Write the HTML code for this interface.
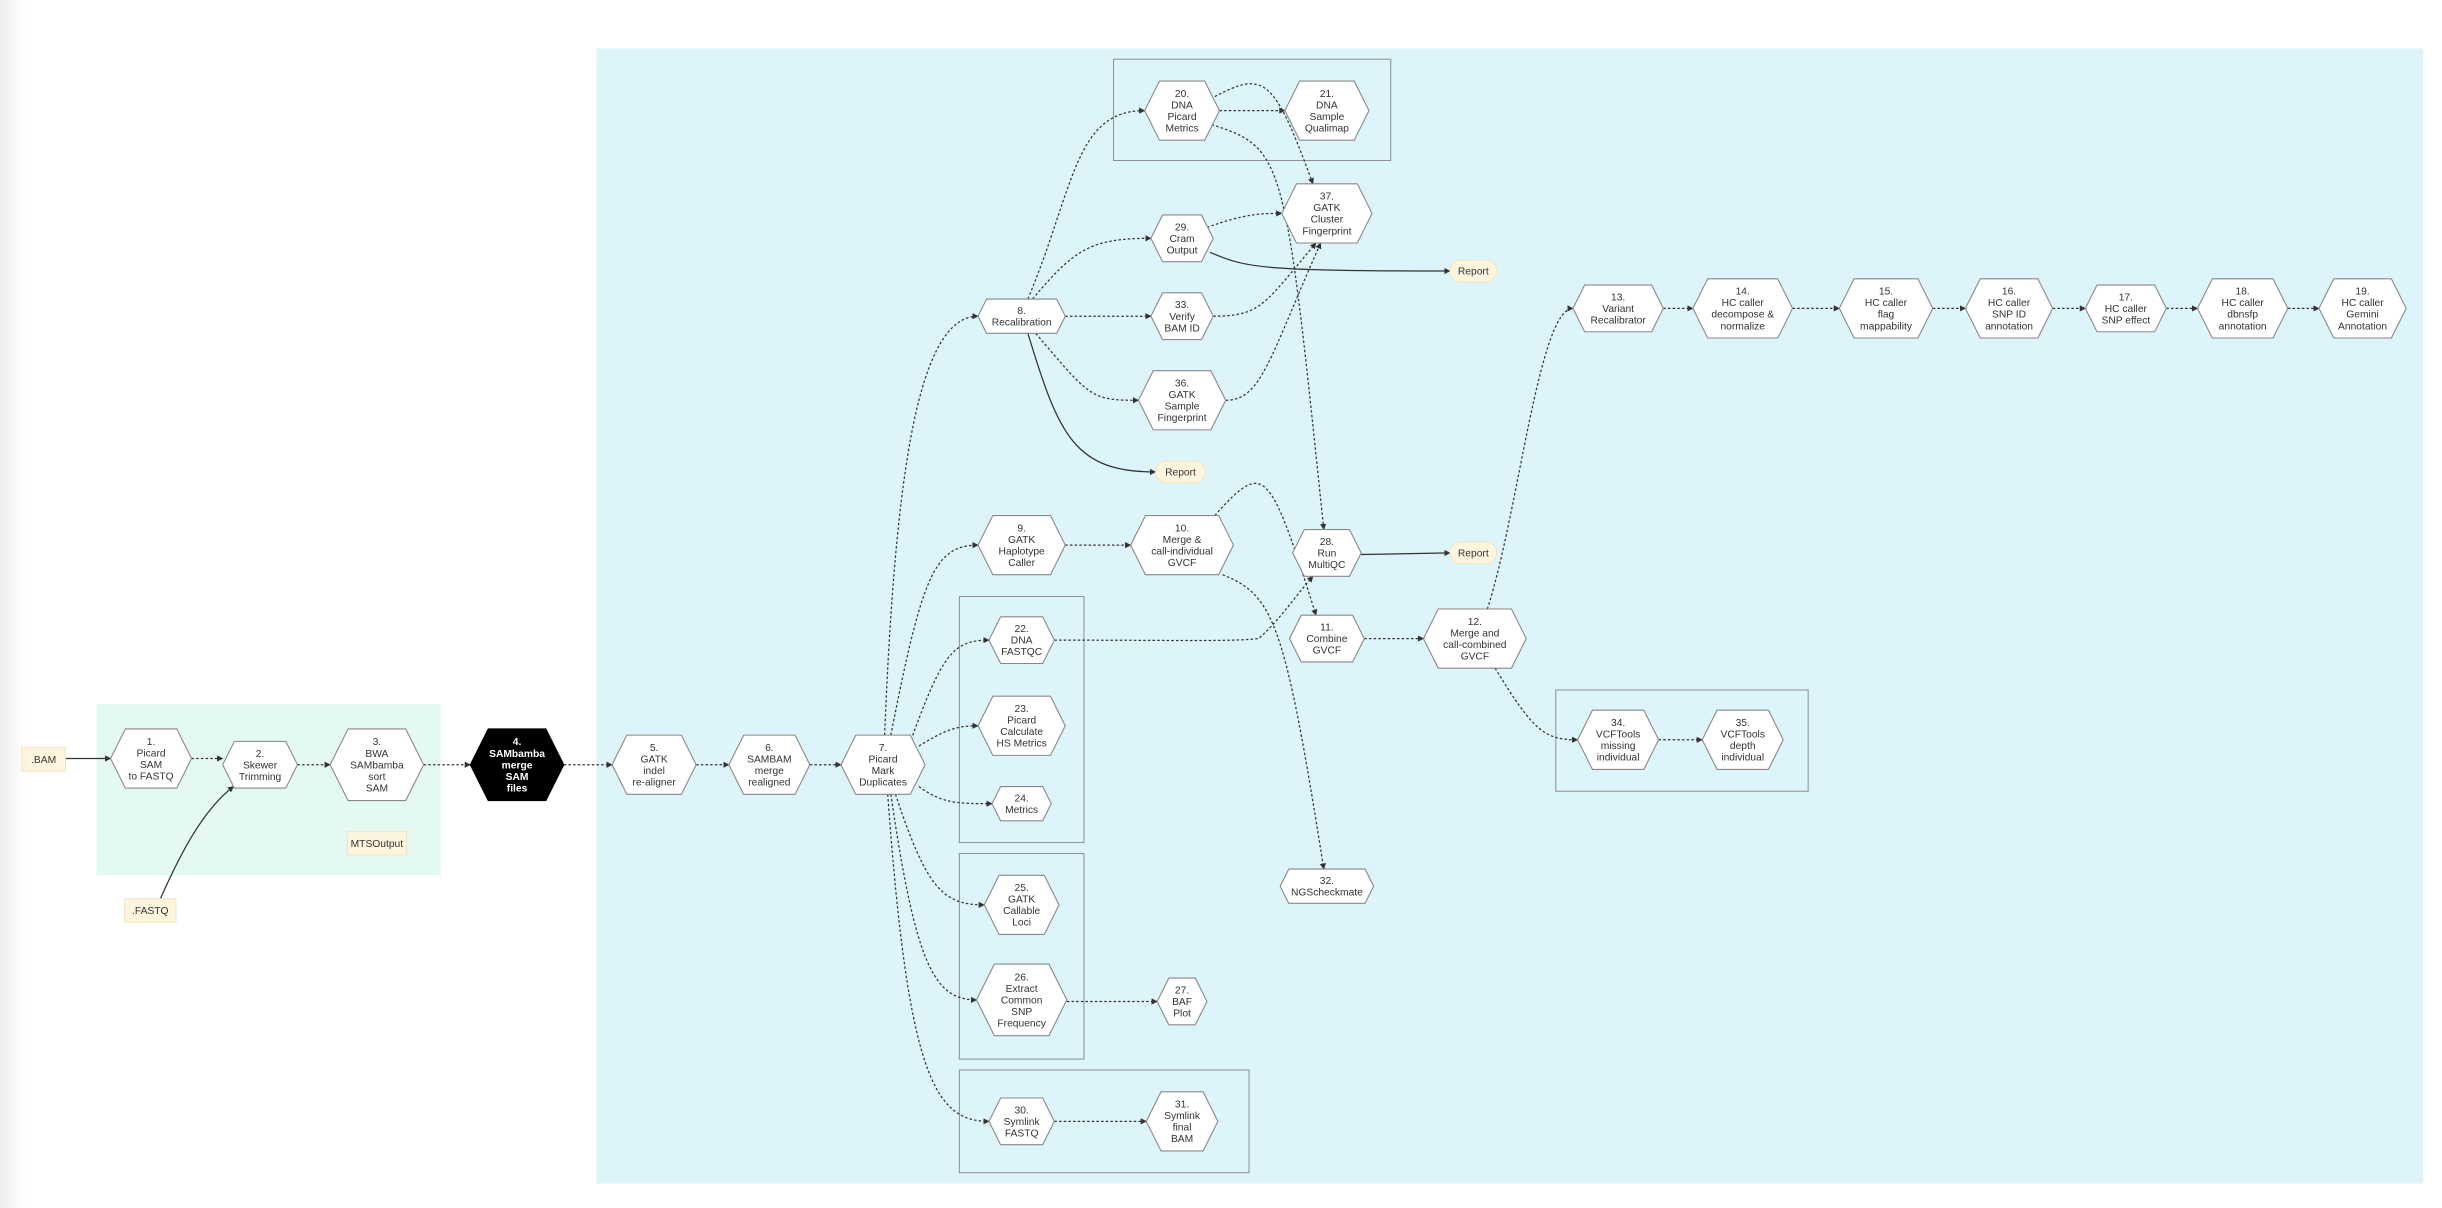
<!DOCTYPE html>
<html><head><meta charset="utf-8"><style>
html,body{margin:0;padding:0;background:#fff;width:2442px;height:1208px;overflow:hidden}
svg{display:block}
text{font-family:"Liberation Sans",sans-serif;font-size:6.6px;fill:#333;text-anchor:middle}
</style></head><body>
<svg id="s" width="2442" height="1208" viewBox="0 0 1568 775.6" xmlns="http://www.w3.org/2000/svg">
<defs>
<linearGradient id="g" x1="0" x2="1"><stop offset="0" stop-color="#ececec"/><stop offset="1" stop-color="#fff"/></linearGradient>
<marker id="a" viewBox="0 0 10 10" refX="9" refY="5" markerWidth="5" markerHeight="5" orient="auto"><path d="M0,0L10,5L0,10z" fill="#333"/></marker>
</defs>
<rect x="0" y="0" width="16" height="775.6" fill="url(#g)"/>
<rect x="62" y="452" width="221" height="110" fill="#e4f9f1"/>
<rect x="383" y="31" width="1173" height="729" fill="#ddf4fa"/>
<g fill="none" stroke="#888" stroke-width="0.6">
<rect x="715" y="38" width="178" height="65"/>
<rect x="616" y="383" width="80" height="158"/>
<rect x="616" y="548" width="80" height="132"/>
<rect x="616" y="687" width="186" height="66"/>
<rect x="999" y="443" width="162" height="65"/>
</g>
<g id="edges" fill="none" stroke="#333" stroke-width="0.8"></g>
<g id="nodes"></g>
</svg>
<script>
var NS="http://www.w3.org/2000/svg";
var E=document.getElementById("edges"),N=document.getElementById("nodes");
function el(t,a,p){var e=document.createElementNS(NS,t);for(var k in a)e.setAttribute(k,a[k]);p.appendChild(e);return e;}
var dotted=[
"M123,487L143,487","M191,491L212,491","M272,491L302,491","M362,491L393,491","M447,491L468,491","M520,491L540,491",
"M568,472C575,300 590,203 628,203","M572,472C592,370 600,350 628,350","M585,475C605,420 612,411 635,411",
"M590,479C605,470 612,466 628,466","M590,505C605,516 615,516 637,516","M575,510C595,570 605,581 632,581",
"M572,510C588,620 600,642 627,642","M570,510C583,690 600,720 635,720",
"M660,192C690,120 690,71 735,71","M663,192C690,160 700,153 739,153","M684,203L739,203","M665,214C700,255 700,257 731,257",
"M783,71L825,71","M780,62C812,45 818,50 843,118","M778,80C825,95 825,100 850,340",
"M775,146C800,137 810,137 823,137","M779,203C810,203 812,195 845,156","M787,257C810,257 815,230 848,156",
"M684,350L726,350","M780,331C812,295 815,300 845,395","M785,369C818,382 825,400 850,558",
"M677,411C760,411 790,412 808,410C820,400 830,385 843,370",
"M876,410L914,410","M955,391C975,330 988,198 1010,198","M960,429C985,470 992,475 1013,475",
"M1068,198L1087,198","M1151,198L1181,198","M1241,198L1262,198","M1318,198L1339,198","M1391,198L1411,198","M1469,198L1489,198",
"M1065,475L1093,475","M685,643L743,643","M677,720L736,720"];
dotted.forEach(function(d){el("path",{d:d,"stroke-dasharray":"1.6 1.4","marker-end":"url(#a)"},E);});
["M42,487L71,487","M103,577C115,550 130,520 150,505","M660,214C680,280 690,303 742,303","M777,162C800,172 810,174 931,174","M874,356L931,355"].forEach(function(d){el("path",{d:d,"marker-end":"url(#a)"},E);});
var H=[
[97,487,52,38,["1.","Picard","SAM","to FASTQ"]],[167,491,48,30,["2.","Skewer","Trimming"]],[242,491,60,46,["3.","BWA","SAMbamba","sort","SAM"]],
[332,491,60,46,["4.","SAMbamba","merge","SAM","files"],1],[420,491,54,38,["5.","GATK","indel","re-aligner"]],[494,491,52,38,["6.","SAMBAM","merge","realigned"]],
[567,491,54,38,["7.","Picard","Mark","Duplicates"]],[656,203,56,22,["8.","Recalibration"]],[656,350,56,38,["9.","GATK","Haplotype","Caller"]],
[759,350,66,38,["10.","Merge &","call-individual","GVCF"]],[852,410,48,30,["11.","Combine","GVCF"]],[947,410,66,38,["12.","Merge and","call-combined","GVCF"]],
[1039,198,58,30,["13.","Variant","Recalibrator"]],[1119,198,64,38,["14.","HC caller","decompose &","normalize"]],[1211,198,60,38,["15.","HC caller","flag","mappability"]],
[1290,198,56,38,["16.","HC caller","SNP ID","annotation"]],[1365,198,52,30,["17.","HC caller","SNP effect"]],[1440,198,58,38,["18.","HC caller","dbnsfp","annotation"]],
[1517,198,56,38,["19.","HC caller","Gemini","Annotation"]],[759,71,48,38,["20.","DNA","Picard","Metrics"]],[852,71,54,38,["21.","DNA","Sample","Qualimap"]],
[852,137,58,38,["37.","GATK","Cluster","Fingerprint"]],[759,153,40,30,["29.","Cram","Output"]],[759,203,40,30,["33.","Verify","BAM ID"]],
[759,257,56,38,["36.","GATK","Sample","Fingerprint"]],[852,355,44,30,["28.","Run","MultiQC"]],[656,411,42,30,["22.","DNA","FASTQC"]],
[656,466,56,38,["23.","Picard","Calculate","HS Metrics"]],[656,516,38,22,["24.","Metrics"]],[656,581,48,38,["25.","GATK","Callable","Loci"]],
[656,642,58,46,["26.","Extract","Common","SNP","Frequency"]],[759,643,32,30,["27.","BAF","Plot"]],[656,720,42,30,["30.","Symlink","FASTQ"]],
[759,720,46,38,["31.","Symlink","final","BAM"]],[852,569,60,22,["32.","NGScheckmate"]],[1039,475,52,38,["34.","VCFTools","missing","individual"]],
[1119,475,52,38,["35.","VCFTools","depth","individual"]]];
function label(x,y,lines,col,bold){var lh=7.4,y0=y-(lines.length-1)*lh/2+2.3;lines.forEach(function(s,i){var t=el("text",{x:x,y:y0+i*lh},N);if(col)t.setAttribute("style","fill:"+col+(bold?";font-weight:bold":""));t.textContent=s;});}
H.forEach(function(n){var x=n[0],y=n[1],w=n[2]/2,h=n[3]/2,f=n[3]/4;
var p=[[x-w,y],[x-w+f,y-h],[x+w-f,y-h],[x+w,y],[x+w-f,y+h],[x-w+f,y+h]].map(function(q){return q.join(",");}).join(" ");
el("polygon",{points:p,fill:n[5]?"#000":"#fff",stroke:n[5]?"#000":"#888","stroke-width":"0.7"},N);
label(x,y,n[4],n[5]?"#fff":null,n[5]);});
[[758,303,32],[946,174,30],[946,355,30]].forEach(function(r){el("rect",{x:r[0]-r[2]/2,y:r[1]-7,width:r[2],height:14,rx:7,fill:"#fff4dd",stroke:"#f3e3bd","stroke-width":"0.6"},N);label(r[0],r[1],["Report"]);});
[[28,487.5,28,".BAM"],[96.5,584.5,33,".FASTQ"],[242,541.5,38,"MTSOutput"]].forEach(function(r){el("rect",{x:r[0]-r[2]/2,y:r[1]-7.5,width:r[2],height:15,fill:"#fff4dd",stroke:"#f3e3bd","stroke-width":"0.6"},N);label(r[0],r[1],[r[3]]);});
</script>
</body></html>
